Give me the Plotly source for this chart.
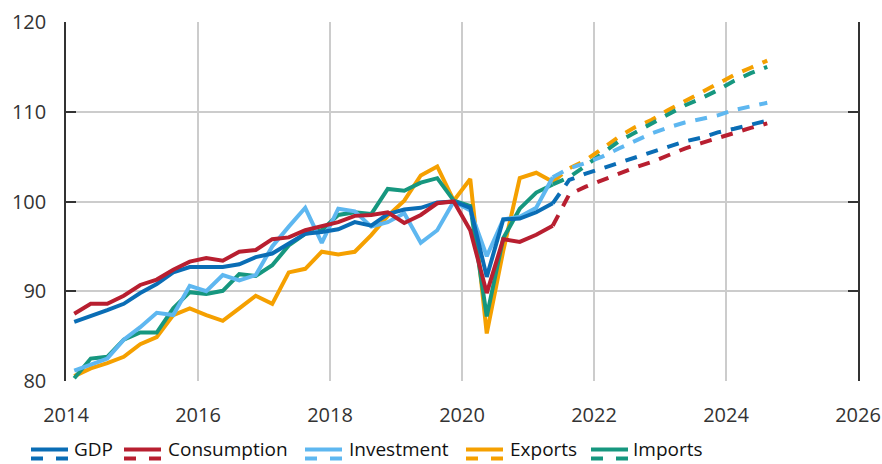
import plotly.graph_objects as go

# ---- data ----
start_year = 2014
n_hist = 30  # 2014Q1 .. 2021Q2
n_proj = 14  # 2021Q2 .. 2024Q3

gdp_hist = [86.6, 87.2, 87.9, 88.6, 89.8, 90.8, 92.1, 92.7, 92.7, 92.7, 93.0, 93.8, 94.2, 95.3, 96.4,
            96.6, 96.9, 97.7, 97.3, 98.6, 99.1, 99.3, 99.9, 100.0, 99.3, 91.6, 98.0, 98.1, 98.8, 99.8]
cons_hist = [87.5, 88.6, 88.6, 89.5, 90.7, 91.3, 92.4, 93.3, 93.7, 93.4, 94.4, 94.6, 95.8, 96.0, 96.8,
             97.2, 97.7, 98.4, 98.5, 98.8, 97.6, 98.5, 99.8, 100.0, 96.8, 89.8, 95.8, 95.5, 96.3, 97.3]
inv_hist = [81.15, 81.8, 82.5, 84.6, 86.0, 87.6, 87.35, 90.6, 90.0, 91.8, 91.2, 91.8, 95.0, 97.2, 99.3,
            95.4, 99.2, 98.9, 97.2, 97.7, 98.7, 95.4, 96.8, 100.0, 99.0, 93.9, 98.0, 98.3, 99.3, 102.7]
exp_hist = [80.55, 81.4, 82.0, 82.7, 84.1, 84.9, 87.35, 88.1, 87.35, 86.7, 88.1, 89.5, 88.6, 92.1, 92.5,
            94.4, 94.1, 94.4, 96.25, 98.4, 100.1, 102.9, 103.9, 100.1, 102.5, 85.3, 94.5, 102.6, 103.2, 102.2]
imp_hist = [80.3, 82.5, 82.7, 84.6, 85.4, 85.4, 88.1, 89.9, 89.7, 90.05, 91.9, 91.7, 92.9, 95.1, 96.4,
            96.8, 98.5, 98.8, 98.6, 101.4, 101.2, 102.1, 102.6, 100.1, 99.5, 87.2, 95.9, 99.2, 101.0, 101.9]

gdp_proj = [99.8, 102.4, 103.1, 103.7, 104.4, 105.0, 105.6, 106.2, 106.7, 107.1, 107.7, 108.1, 108.5, 109.0]
cons_proj = [97.3, 100.8, 101.65, 102.4, 103.1, 103.8, 104.4, 105.2, 105.9, 106.5, 107.1, 107.7, 108.2, 108.7]
inv_proj = [102.7, 103.7, 104.3, 105.0, 105.9, 106.8, 107.6, 108.25, 108.8, 109.2, 109.6, 110.2, 110.55, 111.0]
exp_proj = [102.2, 103.7, 104.6, 105.9, 107.2, 108.3, 109.1, 110.2, 111.2, 112.1, 113.1, 114.1, 114.9, 115.7]
imp_proj = [101.9, 102.7, 104.0, 105.4, 106.7, 107.7, 108.7, 109.6, 110.7, 111.5, 112.4, 113.45, 114.3, 115.0]

x_ticks = [2014, 2016, 2018, 2020, 2022, 2024, 2026]
y_ticks = [80, 90, 100, 110, 120]

series_names = ["GDP", "Consumption", "Investment", "Exports", "Imports"]
colors = {"GDP": "#0A6DB5", "Consumption": "#B81F30", "Investment": "#5EB7F0",
          "Exports": "#F5A000", "Imports": "#16977F"}

hist = {"GDP": gdp_hist, "Consumption": cons_hist, "Investment": inv_hist,
        "Exports": exp_hist, "Imports": imp_hist}
proj = {"GDP": gdp_proj, "Consumption": cons_proj, "Investment": inv_proj,
        "Exports": exp_proj, "Imports": imp_proj}

# quarter midpoints as decimal years
def qx(i):
    return start_year + i * 0.25 + 0.125

x_hist = [qx(i) for i in range(n_hist)]
x_proj = [qx(i) for i in range(n_hist - 1, n_hist - 1 + n_proj)]

fig = go.Figure()
draw_order = ["Exports", "Imports", "Investment", "GDP", "Consumption"]
for name in draw_order:
    fig.add_trace(go.Scatter(x=x_proj, y=proj[name], mode="lines", showlegend=False,
                             line=dict(color=colors[name], width=4, dash="12px,10px")))
for name in draw_order:
    fig.add_trace(go.Scatter(x=x_hist, y=hist[name], mode="lines", showlegend=False,
                             line=dict(color=colors[name], width=4)))

W, H = 882, 464
ml, mr, mt, mb = 66, 24, 22, 83
pw, ph = W - ml - mr, H - mt - mb

def px2x(p):
    return (p - ml) / pw

def px2y(p):
    return (H - mb - p) / ph

font_family = "Open Sans, Noto Sans, sans-serif"

# custom legend: solid line above dashed line, then label
icon_x = [31, 124, 305, 466, 591]
text_x = [73, 167, 348, 509, 632]
icon_w = 37
for name, ix, tx in zip(series_names, icon_x, text_x):
    fig.add_shape(type="line", xref="paper", yref="paper",
                  x0=px2x(ix), x1=px2x(ix + icon_w), y0=px2y(449.5), y1=px2y(449.5),
                  line=dict(color=colors[name], width=4))
    fig.add_shape(type="line", xref="paper", yref="paper",
                  x0=px2x(ix), x1=px2x(ix + icon_w), y0=px2y(458.5), y1=px2y(458.5),
                  line=dict(color=colors[name], width=4, dash="12px,13px"))
    fig.add_annotation(text=name, xref="paper", yref="paper", x=px2x(tx), y=px2y(449),
                       xanchor="left", yanchor="middle", showarrow=False, borderpad=0,
                       font=dict(family=font_family, size=19, color="#111111"))

fig.update_layout(
    width=W, height=H,
    margin=dict(l=ml, r=mr, t=mt, b=mb, autoexpand=False),
    paper_bgcolor="white", plot_bgcolor="white",
    font=dict(family=font_family, size=20, color="#333333"),
    showlegend=False,
)
fig.update_xaxes(range=[2014, 2026], tickvals=x_ticks, ticktext=[str(v) for v in x_ticks],
                 showgrid=True, gridcolor="#CCCCCC", gridwidth=1.5, zeroline=False,
                 showline=False, ticks="", ticklabelstandoff=20,
                 tickfont=dict(family=font_family, size=20, color="#333333"))
fig.update_yaxes(range=[80, 120], tickvals=y_ticks, showgrid=True, gridcolor="#CCCCCC", gridwidth=1.5,
                 zeroline=False, showline=True, linecolor="#333333", linewidth=1.5,
                 mirror="ticks", ticks="inside", ticklen=10, tickcolor="#333333", tickwidth=1.5,
                 ticklabelstandoff=14,
                 tickfont=dict(family=font_family, size=20, color="#333333"))

fig.write_html("out.html", config={"displayModeBar": False},
               post_script="document.body.style.margin='0';document.body.style.overflow='hidden';")
